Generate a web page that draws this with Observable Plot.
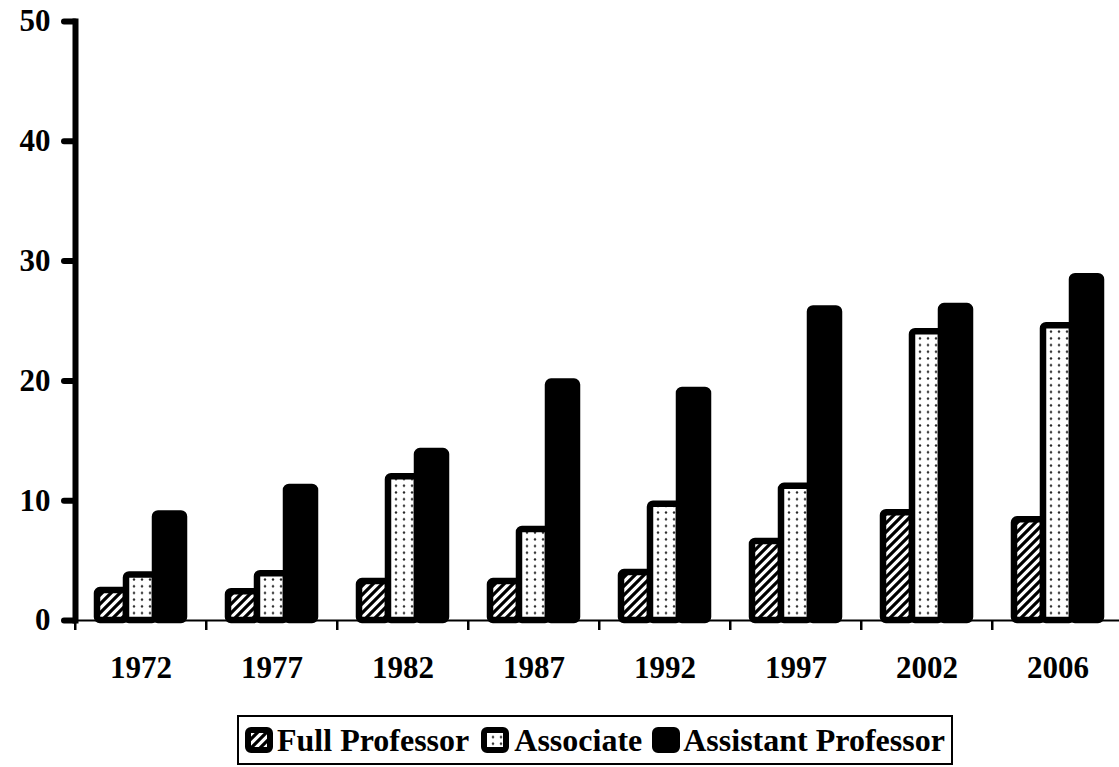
<!DOCTYPE html>
<html>
<head>
<meta charset="utf-8">
<script src="https://cdn.jsdelivr.net/npm/d3@7"></script>
<script src="https://cdn.jsdelivr.net/npm/@observablehq/plot@0.6"></script>
<style>
  html, body { margin: 0; padding: 0; background: #fff; }
  body { width: 1119px; height: 767px; overflow: hidden; font-family: "Liberation Serif", "Times New Roman", serif; }
  #legend {
    position: absolute; left: 237px; top: 715px; width: 712px; height: 46px;
    border: 2px solid #000; display: flex; align-items: center; box-sizing: content-box;
    font-weight: bold; font-size: 32px; color: #000; white-space: nowrap;
  }
  #legend .item { display: flex; align-items: center; }
  #legend svg { display: block; }
</style>
</head>
<body>
<svg width="0" height="0" style="position:absolute">
  <defs>
    <pattern id="hatch" patternUnits="userSpaceOnUse" width="9" height="9">
      <rect width="9" height="9" fill="#fff"/>
      <path d="M-2.25,2.25 L2.25,-2.25 M0,9 L9,0 M6.75,11.25 L11.25,6.75" stroke="#000" stroke-width="3.2"/>
    </pattern>
    <pattern id="dots" patternUnits="userSpaceOnUse" width="8" height="6.7">
      <rect width="8" height="6.7" fill="#fff"/>
      <circle cx="4" cy="3.3" r="1.2" fill="#222"/>
    </pattern>
  </defs>
</svg>
<div id="chart"></div>
<div id="legend"></div>
<script>
const years = ["1972", "1977", "1982", "1987", "1992", "1997", "2002", "2006"];
const series = ["Full Professor", "Associate", "Assistant Professor"];
const fullProfessor = [2.5, 2.4, 3.25, 3.25, 4.0, 6.6, 9.0, 8.4];
const associate = [3.8, 3.9, 12.0, 7.6, 9.7, 11.2, 24.1, 24.6];
const assistantProfessor = [8.9, 11.1, 14.1, 19.9, 19.2, 26.0, 26.2, 28.7];
const yTicks = [0, 10, 20, 30, 40, 50];

const fills = {"Full Professor": "url(#hatch)", "Associate": "url(#dots)", "Assistant Professor": "#000"};
const valuesBySeries = {"Full Professor": fullProfessor, "Associate": associate, "Assistant Professor": assistantProfessor};

const table = [];
years.forEach((year, i) => {
  series.forEach(s => table.push({year, series: s, value: valuesBySeries[s][i]}));
});

const width = 1119, height = 705;
const marginLeft = 73, marginRight = -6;
const step = (width - marginLeft - marginRight) / years.length;

const chart = Plot.plot({
  width, height,
  marginTop: 21, marginBottom: 85, marginLeft, marginRight,
  style: {fontFamily: "Liberation Serif, Times New Roman, serif", color: "#000", background: "#fff"},
  fx: {domain: years, padding: 0, axis: null},
  x: {domain: series, paddingInner: 0, paddingOuter: 0.72, axis: null},
  y: {domain: [0, 50], axis: null},
  color: {type: "identity"},
  marks: [
    Plot.ruleY([0], {stroke: "#000", strokeWidth: 2}),
    Plot.barY(table, {
      fx: "year", x: "series", y: "value",
      fill: d => fills[d.series],
      stroke: "#000", strokeWidth: 6.5, rx: 3, strokeLinejoin: "round"
    }),
    Plot.frame({anchor: "left", stroke: "#000", strokeWidth: 6, facetAnchor: "left"}),
    Plot.axisY({ticks: yTicks, tickSize: 11, tickPadding: 14, fontSize: 31, fontWeight: "bold",
      stroke: "#000", strokeWidth: 6, strokeLinecap: "round", label: null, anchor: "left"}),
    Plot.axisFx({anchor: "bottom", tickSize: 0, tickPadding: 35, fontSize: 31, fontWeight: "bold", label: null}),
    Plot.axisFx({anchor: "bottom", text: null, tickSize: 10, stroke: "#000", strokeWidth: 2.5, dx: -step / 2, label: null})
  ]
});
document.getElementById("chart").appendChild(chart);

// Legend
const legend = document.getElementById("legend");
const legendSpacing = {"Full Professor": [6, 4, 12], "Associate": [0, 5, 10], "Assistant Professor": [0, 3, 0]};
series.forEach(s => {
  const [ml, gap, mr] = legendSpacing[s];
  const item = document.createElement("div");
  item.className = "item";
  item.style.marginLeft = ml + "px";
  item.style.marginRight = mr + "px";
  const sw = d3.create("svg").attr("width", 28).attr("height", 26);
  sw.append("rect").attr("x", 3).attr("y", 3).attr("width", 22).attr("height", 20)
    .attr("rx", 3).attr("fill", fills[s]).attr("stroke", "#000").attr("stroke-width", 6);
  item.appendChild(sw.node());
  const label = document.createElement("span");
  label.textContent = s;
  label.style.marginLeft = gap + "px";
  item.appendChild(label);
  legend.appendChild(item);
});
</script>
</body>
</html>
